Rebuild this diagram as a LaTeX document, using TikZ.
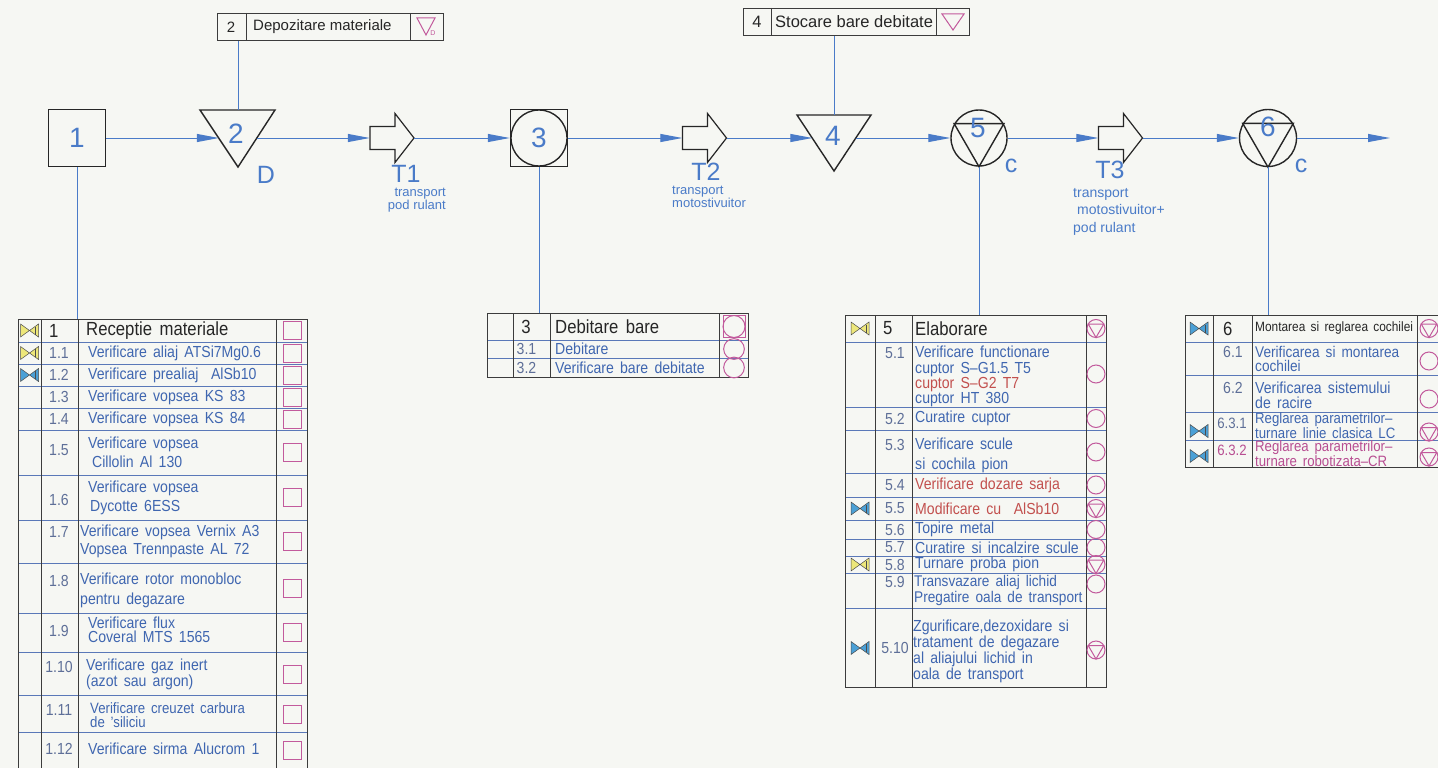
\documentclass[tikz,border=0pt]{standalone}
\usepackage{fontspec}
\setmainfont{Liberation Sans}
\newfontfamily\cadfont[FakeStretch=0.88, WordSpace=1.6, Ligatures=TeX]{Liberation Sans}
\usetikzlibrary{arrows.meta,calc,positioning,shapes}

\definecolor{paper}{HTML}{F6F7F3}
\definecolor{flowblue}{HTML}{4A7BC8}
\definecolor{subblue}{HTML}{3F66B0}
\definecolor{numgray}{HTML}{5E6F98}
\definecolor{rowblue}{HTML}{5A78B8}
\definecolor{gridgray}{HTML}{3C3C3C}
\definecolor{markpink}{HTML}{C25A9C}
\definecolor{redtxt}{HTML}{C2504E}
\definecolor{magtxt}{HTML}{B84E92}
\definecolor{bowyel}{HTML}{EDE77A}
\definecolor{bowblue}{HTML}{4BA0D6}

\tikzset{
  sym/.style={draw=black!85, line width=1.4pt},
  link/.style={flowblue, line width=1pt},
  flow/.style={link, -{Triangle[length=22pt,width=8pt]}},
  hole/.style={inner sep=0pt, minimum height=20pt},
  fnum/.style={text=flowblue, inner sep=0pt, font=\fontsize{28}{28}\selectfont},
  flab/.style={text=flowblue, inner sep=0pt, font=\fontsize{25}{25}\selectfont},
  sublab/.style={text=flowblue, inner sep=0pt, align=left, font=\fontsize{13}{11}\selectfont},
  tabline/.style={draw=gridgray, line width=0.8pt},
  rowl/.style={draw=rowblue, line width=0.8pt},
  bxtxt/.style={inner sep=0pt, text=black!85, font=\fontsize{15}{15}\selectfont},
  rhead/.style={inner sep=0pt, text=black!85, font=\cadfont\fontsize{19}{19}\selectfont},
  rtxt/.style={anchor=west, inner sep=0pt, text=subblue, align=left, font=\cadfont\fontsize{16}{16}\selectfont},
  rnum/.style={inner sep=0pt, text=numgray, font=\cadfont\fontsize{16}{16}\selectfont},
  mk/.style={draw=markpink, line width=1pt},
  pics/bow/.style={code={
    \draw[fill=#1, draw=black!70, line width=0.5pt] (-9,-6.5) -- (0,0) -- (-9,6.5) -- cycle;
    \draw[fill=#1, draw=black!70, line width=0.5pt] (9,-6.5) -- (0,0) -- (9,6.5) -- cycle;
    \draw[black!70, line width=0.5pt] (6,-4) -- (6,4);
  }},
  pics/qsq/.style={code={\draw[mk] (-9,-9) rectangle (9,9);}},
  pics/qci/.style={code={\draw[mk] (0,0) circle (9);}},
  pics/qct/.style={code={\draw[mk] (0,0) circle (9);
    \draw[mk] (-7.8,-4.5) -- (7.8,-4.5) -- (0,9) -- cycle;}},
  pics/qcs/.style={code={\draw[mk] (-11,-11) rectangle (11,11); \draw[mk] (0,0) circle (11);}},
  pics/blockarrow/.style={code={
    \draw[sym, line width=1.2pt, fill=paper] (-22,-11.5) -- (3,-11.5) -- (3,-24.5)
      -- (22,0) -- (3,24.5) -- (3,11.5) -- (-22,11.5) -- cycle;}},
}

\begin{document}
\begin{tikzpicture}[x=1pt,y=-1pt]
\useasboundingbox[fill=paper] (0,0) rectangle (1438,768);

% flow line
\node[sym, draw, minimum size=57pt, inner sep=0pt] (n1) at (77,138) {};
\node[fnum] (l1) at (n1) {1};

\node[hole, minimum width=38pt] (n2) at (238,138) {};
\draw[sym] ($(n2)+(-38,-28)$) -- ($(n2)+(37,-28)$) -- ($(n2)+(0,29)$) -- cycle;
\node[fnum] (l2) at (236,134) {2};
\node[flab] (d2) at (266,175) {D};

\pic at (392,138) {blockarrow};
\node[hole, minimum width=44pt] (a1) at (392,138) {};
\node[flab] (t1) at (406,174) {T1};
\node[sublab, align=right, anchor=north east] (s1) at (446,188) {transport\\pod rulant};

\node[sym, draw, minimum size=57pt, inner sep=0pt] (n3) at (539,138) {};
\draw[sym] (n3) circle (28);
\node[fnum] (l3) at (n3) {3};

\pic at (704.5,138) {blockarrow};
\node[hole, minimum width=44pt] (a2) at (704.5,138) {};
\node[flab] (t2) at (706,172) {T2};
\node[sublab, anchor=north west] (s2) at (672,186) {transport\\motostivuitor};

\node[hole, minimum width=43pt] (n4) at (834,138) {};
\draw[sym] ($(n4)+(-37,-23)$) -- ($(n4)+(37,-23)$) -- ($(n4)+(0,33)$) -- cycle;
\node[fnum] (l4) at (833,136) {4};

\node[sym, draw, circle, minimum size=56pt, inner sep=0pt] (n5) at (979,138) {};
\draw[sym] (n5.south) -- (n5.30) -- (n5.150) -- cycle;
\node[fnum] (l5) at (978,128) {5};
\node[flab] (c5) at (1011,166) {c};

\pic at (1120.5,138) {blockarrow};
\node[hole, minimum width=44pt] (a3) at (1120.5,138) {};
\node[flab] (t3) at (1110,170) {T3};
\node[sublab, anchor=north west, font=\fontsize{14}{17.5}\selectfont] (s3) at (1073,188)
  {transport\\\hspace*{4pt}motostivuitor+\\pod rulant};

\node[sym, draw, circle, minimum size=57pt, inner sep=0pt] (n6) at (1268,138) {};
\draw[sym] (n6.south) -- (n6.30) -- (n6.150) -- cycle;
\node[fnum] (l6) at (1268,127) {6};
\node[flab] (c6) at (1301,166) {c};
\coordinate (out) at (1390,138);

\draw[flow] (n1) -- (n2);
\draw[flow] (n2) -- (a1);
\draw[flow] (a1) -- (n3);
\draw[flow] (n3) -- (a2);
\draw[flow] (a2) -- (n4);
\draw[flow] (n4) -- (n5);
\draw[flow] (n5) -- (a3);
\draw[flow] (a3) -- (n6);
\draw[flow] (n6) -- (out);

% boxes above
\node[tabline, draw, minimum width=226pt, minimum height=27pt, inner sep=0pt, anchor=north west] (bx2) at (217,13) {};
\draw[tabline] (246,13) -- (246,40) (410,13) -- (410,40);
\node[bxtxt] (bx2n) at (231,27) {2};
\node[bxtxt, anchor=west] (bx2t) at (253,27) {Depozitare materiale};
\draw[mk] (417,18) -- (435,18) -- (426,35) -- cycle;
\node[text=markpink, inner sep=0pt, font=\fontsize{7}{7}\selectfont] (bx2d) at (433,33) {D};
\coordinate (n2t) at ($(n2)+(0,-28)$);
\draw[link] (n2t) -- (n2t |- bx2.south);

\node[tabline, draw, minimum width=226pt, minimum height=27pt, inner sep=0pt, anchor=north west] (bx4) at (743,8) {};
\draw[tabline] (771,8) -- (771,35) (936,8) -- (936,35);
\node[bxtxt, font=\fontsize{16.5}{16.5}\selectfont] (bx4n) at (757,22) {4};
\node[bxtxt, anchor=west, font=\fontsize{16.5}{16.5}\selectfont] (bx4t) at (775,22) {Stocare bare debitate};
\draw[mk] (942,14) -- (964,14) -- (953,30) -- cycle;
\coordinate (n4t) at ($(n4)+(0,-23)$);
\draw[link] (n4t) -- (n4t |- bx4.south);

% table 1
\foreach \y in {342,364,386,408,430,475,520,563,613,652,695,732} \draw[rowl] (18,\y) -- (307,\y);
\node[tabline, draw, minimum width=289pt, minimum height=480pt, inner sep=0pt, anchor=north west] (tb1) at (18,319) {};
\foreach \x in {41,78,276} \draw[tabline] (\x,319) -- (\x,800);
\draw[link] (n1.south) -- (n1.south |- tb1.north);
\pic at (29.5,330.5) {bow=bowyel};
\node[rhead, anchor=west] (h1n) at (49,330.5) {1};
\node[rhead, anchor=west] (h1) at (86,330.5) {Receptie materiale};
\pic at (292,330.5) {qsq};
\foreach \n/\t/\y [count=\i] in {1.1/Verificare aliaj ATSi7Mg0.6/353,
    1.2/Verificare prealiaj~~AlSb10/375, 1.3/Verificare vopsea KS 83/397,
    1.4/Verificare vopsea KS 84/419}{
  \node[rnum] (p1n\i) at (59,\y) {\n};
  \node[rtxt] (p1t\i) at (88,\y) {\t};
  \pic at (292,\y) {qsq};
}
\pic at (29.5,353) {bow=bowyel};
\pic at (29.5,375) {bow=bowblue};
\node[rnum] (p1n5) at (59,450) {1.5};
\node[rtxt, font=\cadfont\fontsize{16}{19}\selectfont] (p1t5) at (88,452.5) {Verificare vopsea\\\hspace*{4pt}Cillolin Al 130};
\node[rnum] (p1n6) at (59,500) {1.6};
\node[rtxt, font=\cadfont\fontsize{16}{19}\selectfont] (p1t6) at (88,497.5) {Verificare vopsea\\\hspace*{2pt}Dycotte 6ESS};
\node[rnum] (p1n7) at (59,532) {1.7};
\node[rtxt, font=\cadfont\fontsize{16}{18}\selectfont] (p1t7) at (80,541) {Verificare vopsea Vernix A3\\Vopsea Trennpaste AL 72};
\node[rnum] (p1n8) at (59,581) {1.8};
\node[rtxt, font=\cadfont\fontsize{16}{20}\selectfont] (p1t8) at (80,590) {Verificare rotor monobloc\\pentru degazare};
\node[rnum] (p1n9) at (59,631) {1.9};
\node[rtxt, font=\cadfont\fontsize{16}{14}\selectfont] (p1t9) at (88,630) {Verificare flux\\Coveral MTS 1565};
\node[rnum] (p1n10) at (59,667) {1.10};
\node[rtxt, font=\cadfont\fontsize{16}{14}\selectfont] (p1t10) at (86,674) {Verificare gaz inert\\(azot sau argon)};
\node[rnum] (p1n11) at (59,710) {1.11};
\node[rtxt, font=\cadfont\fontsize{15}{13.5}\selectfont] (p1t11) at (90,715) {Verificare creuzet carbura\\de 'siliciu};
\node[rnum] (p1n12) at (59,749) {1.12};
\node[rtxt] (p1t12) at (88,749) {Verificare sirma Alucrom 1};
\foreach \y in {452.5,497.5,541,588,632,674,714,750} \pic at (292,\y) {qsq};

% table 3
\draw[rowl] (487,340) -- (748,340) (487,358) -- (748,358);
\node[tabline, draw, minimum width=261pt, minimum height=64pt, inner sep=0pt, anchor=north west] (tb3) at (487,313) {};
\foreach \x in {513,550,719} \draw[tabline] (\x,313) -- (\x,377);
\draw[link] (n3.south) -- (n3.south |- tb3.north);
\node[rhead] (h3n) at (526,326.5) {3};
\node[rhead, anchor=west] (h3) at (555,326.5) {Debitare bare};
\pic at (734,326.5) {qcs};
\node[rnum] (p3n1) at (526.5,349) {3.1};
\node[rtxt] (p3t1) at (555,349) {Debitare};
\pic[scale=1.15] at (734,349) {qci};
\node[rnum] (p3n2) at (526.5,367.5) {3.2};
\node[rtxt] (p3t2) at (555,367.5) {Verificare bare debitate};
\pic[scale=1.15] at (734,367.5) {qci};

% table 5
\foreach \y in {342,407,430,473,497,520,539,556,573,608} \draw[rowl] (845,\y) -- (1106,\y);
\node[tabline, draw, minimum width=261pt, minimum height=372pt, inner sep=0pt, anchor=north west] (tb5) at (845,315) {};
\foreach \x in {875,912,1086} \draw[tabline] (\x,315) -- (\x,687);
\draw[link] (n5.south) -- (n5.south |- tb5.north);
\pic at (860,328.5) {bow=bowyel};
\node[rhead, anchor=west] (h5n) at (883,328.5) {5};
\node[rhead, anchor=west] (h5) at (915,328.5) {Elaborare};
\pic at (1096,328.5) {qct};
\node[rnum] (p5n1) at (895,353) {5.1};
\node[rtxt, anchor=north west, font=\cadfont\fontsize{16}{15.3}\selectfont] (p5t1) at (915,346)
  {Verificare functionare\\cuptor S--G1.5 T5\\\textcolor{redtxt}{cuptor S--G2 T7}\\cuptor HT 380};
\pic at (1096,374) {qci};
\node[rnum] (p5n3) at (895,445) {5.3};
\node[rtxt, font=\cadfont\fontsize{16}{20}\selectfont] (p5t3) at (915,455) {Verificare scule\\si cochila pion};
\pic at (1096,452) {qci};
\foreach \n/\t/\y [count=\i] in {5.2/Curatire cuptor/418.5, 5.4/\textcolor{redtxt}{Verificare dozare sarja}/485,
    5.5/\textcolor{redtxt}{Modificare cu~~AlSb10}/508.5, 5.6/Topire metal/529.5,
    5.7/Curatire si incalzire scule/547.5, 5.8/Turnare proba pion/564.5}{
  \node[rnum] (p5m\i) at (895,\y) {\n};
  \node[rtxt] (p5s\i) at (915,\y) {\t};
}
\foreach \y in {418.5,485,529.5,547.5} \pic at (1096,\y) {qci};
\foreach \y in {508.5,564.5} \pic at (1096,\y) {qct};
\pic at (860,508.5) {bow=bowblue};
\pic at (860,564.5) {bow=bowyel};
\node[rnum] (p5n9) at (895,582) {5.9};
\node[rtxt, font=\cadfont\fontsize{15.5}{16}\selectfont] (p5t9) at (914,590) {Transvazare aliaj lichid\\Pregatire oala de transport};
\pic at (1096,584) {qci};
\pic at (860,648) {bow=bowblue};
\node[rnum] (p5n10) at (895,648) {5.10};
\node[rtxt, font=\cadfont\fontsize{16}{16}\selectfont] (p5t10) at (913,651)
  {Zgurificare,dezoxidare si\\tratament de degazare\\al aliajului lichid in\\oala de transport};
\pic at (1096,650) {qct};

% table 6
\foreach \y in {342,375,412,440} \draw[rowl] (1185,\y) -- (1445,\y);
\node[tabline, draw, minimum width=260pt, minimum height=152pt, inner sep=0pt, anchor=north west] (tb6) at (1185,315) {};
\foreach \x in {1213,1252,1417} \draw[tabline] (\x,315) -- (\x,467);
\draw[link] (n6.south) -- (n6.south |- tb6.north);
\pic at (1199,328.5) {bow=bowblue};
\node[rhead, anchor=west] (h6n) at (1223,328.5) {6};
\node[rhead, anchor=west, font=\cadfont\fontsize{13.5}{13.5}\selectfont] (h6) at (1255,328.5) {Montarea si reglarea cochilei};
\pic at (1429,328.5) {qct};
\node[rnum] (p6n1) at (1233,352) {6.1};
\node[rtxt, font=\cadfont\fontsize{15.5}{14}\selectfont] (p6t1) at (1255,358.5) {Verificarea si montarea\\cochilei};
\pic at (1429,361) {qci};
\node[rnum] (p6n2) at (1233,388) {6.2};
\node[rtxt, font=\cadfont\fontsize{16}{15}\selectfont] (p6t2) at (1255,395.5) {Verificarea sistemului\\de racire};
\pic at (1429,399) {qci};
\pic at (1199,431) {bow=bowblue};
\node[rnum, font=\cadfont\fontsize{15}{15}\selectfont] (p6n3) at (1232,423) {6.3.1};
\node[rtxt, font=\cadfont\fontsize{15}{11.5}\selectfont] (p6t3) at (1255,426) {Reglarea parametrilor--\\turnare linie clasica LC};
\pic at (1429,432) {qct};
\pic at (1199,456) {bow=bowblue};
\node[rnum, text=magtxt, font=\cadfont\fontsize{15}{15}\selectfont] (p6n4) at (1232,450) {6.3.2};
\node[rtxt, text=magtxt, font=\cadfont\fontsize{15}{11.5}\selectfont] (p6t4) at (1255,453.5) {Reglarea parametrilor--\\turnare robotizata--CR};
\pic at (1429,457) {qct};
\end{tikzpicture}
\end{document}
